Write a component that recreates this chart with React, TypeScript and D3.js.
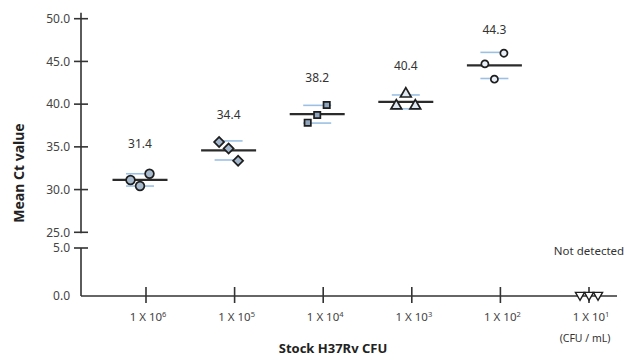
import React from "react";
import * as d3 from "d3";

const categories = ["6", "5", "4", "3", "2", "1"];
const meanLabels = ["31.4", "34.4", "38.2", "40.4", "44.3", null];
const rep1 = [31.12, 35.57, 37.83, 39.8, 44.71];
const rep2 = [30.42, 34.8, 38.73, 41.2, 42.92];
const rep3 = [31.86, 33.37, 39.9, 39.8, 45.96];
const markerShapes = ["circle", "diamond", "square", "triangle", "circle"];
const markerFills = ["#a7bace", "#a3b6cb", "#8fa5bd", "#dfe8f1", "#e9eff6"];
const markerSizes = [60, 50, 40, 50, 40];
const upperTicks = [25, 30, 35, 40, 45, 50];
const lowerTicks = [0, 5];

const W = 633;
const H = 360;

export default function App() {
  const x = d3.scalePoint<string>().domain(categories).range([146, 589]);
  const yU = d3.scaleLinear().domain([25, 50]).range([232.3, 18.7]);
  const yL = d3.scaleLinear().domain([0, 5]).range([296, 248]);
  const axisX = 81;
  const markOffset = -6;
  const spread = 9.5;
  const font = "'Noto Sans', 'DejaVu Sans', sans-serif";

  const symType: Record<string, d3.SymbolType> = {
    circle: d3.symbolCircle,
    diamond: d3.symbolSquare,
    square: d3.symbolSquare,
    triangle: d3.symbolTriangle,
  };

  const groups = categories.slice(0, 5).map((c, i) => {
    const vals = [rep1[i], rep2[i], rep3[i]];
    const mean = d3.mean(vals) as number;
    const sd = d3.deviation(vals) as number;
    return { c, i, vals, mean, sd, cx: (x(c) as number) + markOffset };
  });

  return (
    <svg
      width={W}
      height={H}
      style={{ position: "absolute", left: 0, top: 0, background: "#fff" }}
      fontFamily={font}
    >
      {/* Y axis segments */}
      <line x1={axisX} x2={axisX} y1={yU(50) - 6} y2={yU(25) + 1} stroke="#333" strokeWidth={1.6} />
      <line x1={axisX} x2={axisX} y1={yL(5)} y2={yL(0)} stroke="#333" strokeWidth={1.6} />
      {upperTicks.map((t) => (
        <g key={"u" + t}>
          <line x1={axisX - 7} x2={axisX + 7} y1={yU(t)} y2={yU(t)} stroke="#333" strokeWidth={1.6} />
          <text x={70} y={yU(t)} dy="0.35em" textAnchor="end" fontSize={12} fill="#444">
            {t.toFixed(1)}
          </text>
        </g>
      ))}
      {lowerTicks.map((t) => (
        <g key={"l" + t}>
          {t > 0 && (
            <line x1={axisX - 7} x2={axisX + 7} y1={yL(t)} y2={yL(t)} stroke="#333" strokeWidth={1.6} />
          )}
          <text x={70} y={yL(t)} dy="0.35em" textAnchor="end" fontSize={12} fill="#444">
            {t.toFixed(1)}
          </text>
        </g>
      ))}

      {/* X axis */}
      <line x1={axisX} x2={617} y1={yL(0)} y2={yL(0)} stroke="#333" strokeWidth={1.6} />
      {categories.map((c) => (
        <g key={"x" + c}>
          <line x1={x(c)} x2={x(c)} y1={yL(0) - 9} y2={yL(0) + 7} stroke="#333" strokeWidth={1.6} />
          <text x={(x(c) as number) + 2} y={321} textAnchor="middle" fontSize={11.5} fill="#444">
            1 X 10
            <tspan dy={-4} fontSize={7.5}>{c}</tspan>
          </text>
        </g>
      ))}

      {/* Groups */}
      {groups.map((g) => (
        <g key={"g" + g.c}>
          <line x1={g.cx - 14} x2={g.cx + 14} y1={yU(g.mean + g.sd)} y2={yU(g.mean + g.sd)} stroke="#9cc0e4" strokeWidth={1.6} />
          <line x1={g.cx - 14} x2={g.cx + 14} y1={yU(g.mean - g.sd)} y2={yU(g.mean - g.sd)} stroke="#9cc0e4" strokeWidth={1.6} />
          <line x1={g.cx - 27.5} x2={g.cx + 27.5} y1={yU(g.mean)} y2={yU(g.mean)} stroke="#2b2b2b" strokeWidth={2.2} />
          {g.vals.map((v, k) => (
            <path
              key={k}
              transform={`translate(${g.cx + (k - 1) * spread},${yU(v)})${markerShapes[g.i] === "diamond" ? " rotate(45)" : ""}`}
              d={d3.symbol().type(symType[markerShapes[g.i]]).size(markerSizes[g.i])() as string}
              fill={markerFills[g.i]}
              stroke="#1e1e1e"
              strokeWidth={1.7}
            />
          ))}
          <text x={g.cx} y={yU(g.mean) - 36} dy="0.35em" textAnchor="middle" fontSize={12} fill="#333">
            {meanLabels[g.i]}
          </text>
        </g>
      ))}

      {/* Not detected group */}
      {[-1, 0, 1].map((k) => (
        <path
          key={"nd" + k}
          transform={`translate(${(x("1") as number) + k * 9},${yL(0) - 1}) rotate(180)`}
          d={d3.symbol().type(d3.symbolTriangle).size(36)() as string}
          fill="#fff"
          stroke="#1e1e1e"
          strokeWidth={1.4}
        />
      ))}
      <text x={x("1")} y={251} dy="0.35em" textAnchor="middle" fontSize={11.5} fill="#333">
        Not detected
      </text>

      {/* Titles */}
      <text
        transform={`translate(19,173) rotate(-90)`}
        textAnchor="middle"
        dy="0.35em"
        fontSize={14}
        fontWeight="bold"
        fill="#222"
      >
        Mean Ct value
      </text>
      <text x={333} y={348} dy="0.35em" textAnchor="middle" fontSize={13} fontWeight="bold" fill="#222">
        Stock H37Rv CFU
      </text>
      <text x={585} y={338} dy="0.35em" textAnchor="middle" fontSize={10.5} fill="#333">
        (CFU / mL)
      </text>
    </svg>
  );
}
